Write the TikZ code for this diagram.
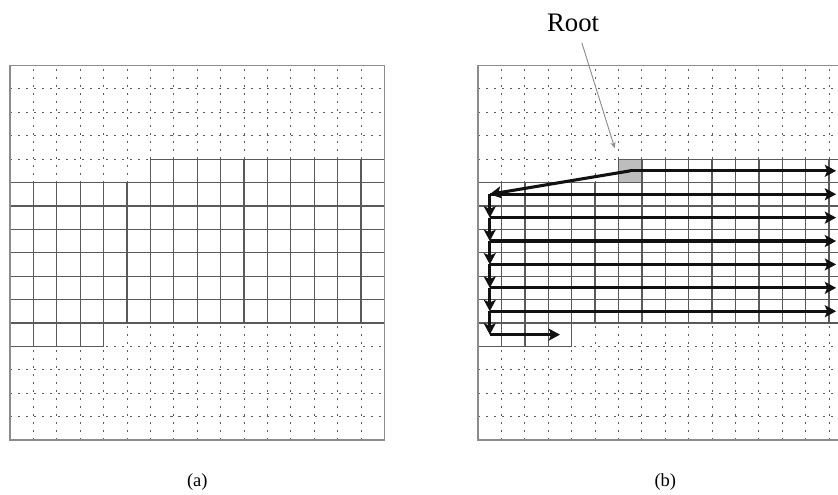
\documentclass[tikz,border=0pt]{standalone}
\usepackage{fontspec}
\setmainfont{Liberation Serif}
\usepackage{tikz}
\usetikzlibrary{arrows.meta}
\definecolor{ink}{HTML}{111111}
\definecolor{rule}{HTML}{5A5A5A}
\definecolor{frame}{HTML}{8C8C8C}
\definecolor{dots}{HTML}{5E5E5E}
\definecolor{rootfill}{HTML}{BDBDBD}
\tikzset{
  dotgrid/.style={draw=dots,line width=0.55pt,dash pattern=on 1pt off 2.9pt,step=0.4cm},
  cellline/.style={draw=rule,line width=0.6pt},
  frameline/.style={draw=frame,line width=0.9pt},
  rootcell/.style={fill=rootfill,draw=none,minimum size=0.4cm,inner sep=0pt},
  walk/.style={-{Stealth[length=5.5pt,width=5.8pt,inset=1.2pt]},line width=1.5pt,color=ink},
  pointer/.style={-{Stealth[length=3pt,width=2.6pt]},line width=0.45pt,color=frame},
  caption/.style={font=\fontsize{9}{10}\selectfont,anchor=base},
}
% one 16x16 panel: dotted cells, solid block of 110 cells, frame
\newcommand{\gridpanel}[1]{%
  \begin{scope}[shift={(#1,0)}]
    \draw[dotgrid] (0,0) grid (16,16);
    \foreach \y in {5,...,11} {\draw[cellline] (0,\y) -- (16,\y);}
    \draw[cellline] (6,12) -- (16,12);
    \draw[cellline] (0,4) -- (4,4);
    \foreach \x in {1,...,15} {\draw[cellline] (\x,5) -- (\x,11);}
    \foreach \x in {6,...,15} {\draw[cellline] (\x,11) -- (\x,12);}
    \foreach \x in {1,...,4} {\draw[cellline] (\x,4) -- (\x,5);}
    \draw[frameline] (0,0) rectangle (16,16);
  \end{scope}
}

\begin{document}
\begin{tikzpicture}[x=0.4cm,y=0.4cm]
    \clip (-0.43,-2.35) rectangle (35.38,18.8);
    % (a)
    \gridpanel{0}
    \node[caption] (capa) at (8,-2.01) {(a)};
    % (b)
    \node[rootcell] (root) at (26.5,11.5) {};
    \gridpanel{20}
    \node[caption] (capb) at (28,-2.01) {(b)};
    \node[font=\fontsize{13}{15}\selectfont,anchor=base,inner sep=0pt] (rootlbl) at (24.06,17.44) {Root};
    \draw[pointer,shorten >=1.9mm] ([xshift=1.5mm,yshift=-1.9mm]rootlbl.base) -- (root.north west);
    \foreach \r in {4,...,11} {
      \coordinate (w\r) at (20.5,15.5-\r);
      \coordinate (e\r) at (35.3,15.5-\r);
    }
    \coordinate (t11) at (23.5,4.5);
    \draw[walk] (root.center) -- (e4);
    \draw[walk] (root.center) -- (w5);
    \foreach \r in {5,...,10} {\draw[walk] (w\r) -- (e\r);}
    \foreach \r [evaluate=\r as \n using int(\r+1)] in {5,...,10} {\draw[walk] (w\r) -- (w\n);}
    \draw[walk] (w11) -- (t11);
\end{tikzpicture}
\end{document}
